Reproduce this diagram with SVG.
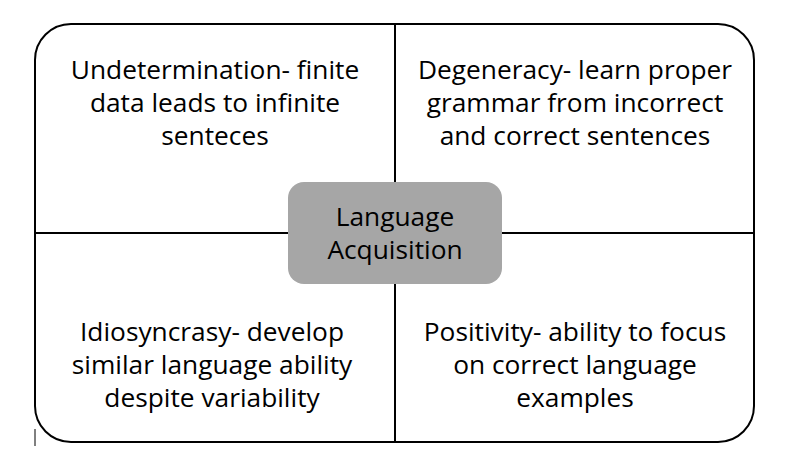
<svg xmlns="http://www.w3.org/2000/svg" width="787" height="460" viewBox="0 0 787 460">
<style>
.t{font-family:"Open Sans","Noto Sans","Liberation Sans",sans-serif;font-size:26.3px;fill:#000;text-anchor:middle}
.ln{stroke:#000;stroke-width:2;fill:none}
</style>
<rect width="787" height="460" fill="#fff"/>
<g id="frame">
<rect x="35" y="24" width="719" height="418" rx="36" ry="36" class="ln"/>
<line x1="35" y1="429" x2="35" y2="446" stroke="#000" stroke-width="1"/>
</g>
<g id="connectors">
<line x1="395" y1="24" x2="395" y2="442" class="ln"/>
<line x1="35" y1="233" x2="754" y2="233" class="ln"/>
</g>
<g id="q-top-left">
<text class="t" x="215" y="79">Undetermination- finite</text>
<text class="t" x="215" y="112">data leads to infinite</text>
<text class="t" x="215" y="145">senteces</text>
</g>
<g id="q-top-right">
<text class="t" x="575" y="79">Degeneracy- learn proper</text>
<text class="t" x="575" y="112">grammar from incorrect</text>
<text class="t" x="575" y="145">and correct sentences</text>
</g>
<g id="q-bottom-left">
<text class="t" x="212" y="341">Idiosyncrasy- develop</text>
<text class="t" x="212" y="374">similar language ability</text>
<text class="t" x="212" y="407">despite variability</text>
</g>
<g id="q-bottom-right">
<text class="t" x="575" y="341">Positivity- ability to focus</text>
<text class="t" x="575" y="374">on correct language</text>
<text class="t" x="575" y="407">examples</text>
</g>
<g id="center">
<rect x="288" y="182" width="214" height="102" rx="16" ry="16" fill="#a6a6a6"/>
<text class="t" x="395" y="226">Language</text>
<text class="t" x="395" y="259">Acquisition</text>
</g>
</svg>
